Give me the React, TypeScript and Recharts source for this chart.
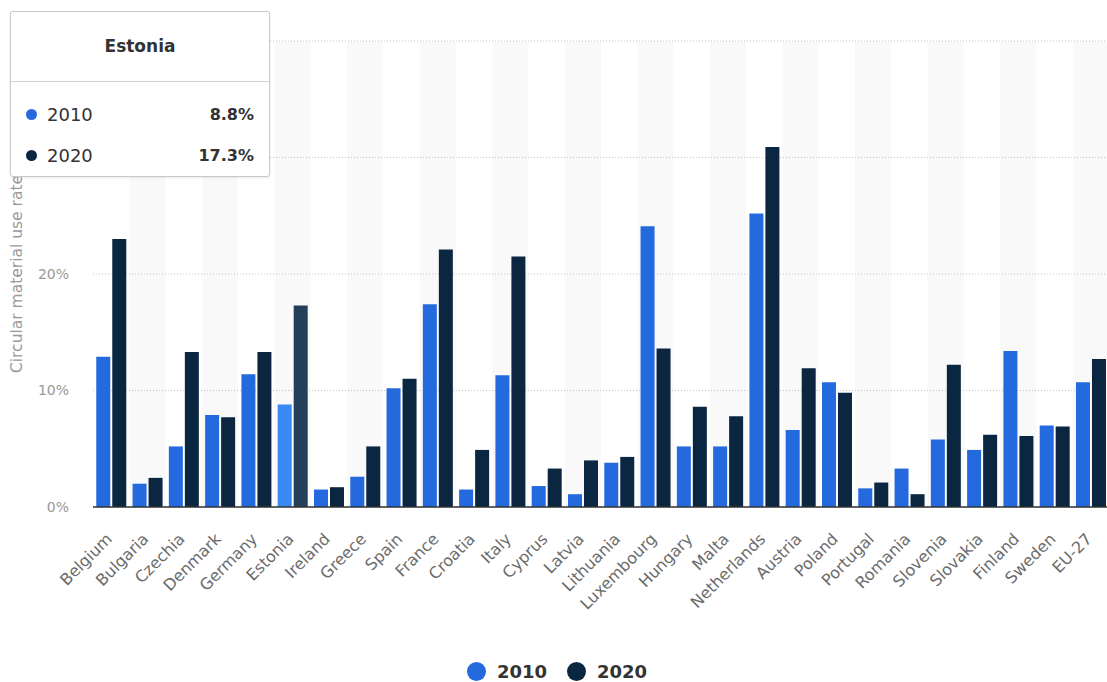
import {
  Bar,
  BarChart,
  CartesianGrid,
  Cell,
  Legend,
  ReferenceArea,
  Tooltip,
  XAxis,
  YAxis,
} from "recharts";

const countries = [
  "Belgium", "Bulgaria", "Czechia", "Denmark", "Germany", "Estonia", "Ireland",
  "Greece", "Spain", "France", "Croatia", "Italy", "Cyprus", "Latvia",
  "Lithuania", "Luxembourg", "Hungary", "Malta", "Netherlands", "Austria",
  "Poland", "Portugal", "Romania", "Slovenia", "Slovakia", "Finland", "Sweden",
  "EU-27",
];

const rate2010 = [
  12.9, 2.0, 5.2, 7.9, 11.4, 8.8, 1.5, 2.6, 10.2, 17.4, 1.5, 11.3, 1.8, 1.1,
  3.8, 24.1, 5.2, 5.2, 25.2, 6.6, 10.7, 1.6, 3.3, 5.8, 4.9, 13.4, 7.0, 10.7,
];

const rate2020 = [
  23.0, 2.5, 13.3, 7.7, 13.3, 17.3, 1.7, 5.2, 11.0, 22.1, 4.9, 21.5, 3.3, 4.0,
  4.3, 13.6, 8.6, 7.8, 30.9, 11.9, 9.8, 2.1, 1.1, 12.2, 6.2, 6.1, 6.9, 12.7,
];

const yTicks = [0, 10, 20, 30, 40];
const hovered = "Estonia";

const FONT = "'DejaVu Sans', Verdana, sans-serif";
const BLUE = "#2469dd";
const NAVY = "#0a2640";
const BLUE_HOVER = "#3a88f4";
const NAVY_HOVER = "#233f5a";

const data = countries.map((c, i) => ({
  country: c,
  y2010: rate2010[i],
  y2020: rate2020[i],
}));

function CountryTick({ x, y, payload }: any) {
  const ax = x + 2;
  const ay = y + 33;
  return (
    <text
      x={ax}
      y={ay}
      transform={`rotate(-45 ${ax} ${ay})`}
      textAnchor="end"
      fontSize={16}
      fontFamily={FONT}
      fill="#6b6b6b"
    >
      {payload.value}
    </text>
  );
}

function AxisTitle({ viewBox }: any) {
  const cy = viewBox ? viewBox.y + viewBox.height / 2 : 274;
  return (
    <text
      x={17}
      y={cy}
      transform={`rotate(-90 17 ${cy})`}
      textAnchor="middle"
      dominantBaseline="central"
      fontSize={15.5}
      fontFamily={FONT}
      fill="#999"
    >
      Circular material use rate
    </text>
  );
}

function HoverBox({ payload }: any) {
  if (!payload || !payload.length) return null;
  const row = payload[0].payload;
  const items = [
    { name: "2010", color: BLUE, value: row.y2010 },
    { name: "2020", color: NAVY, value: row.y2020 },
  ];
  return (
    <div
      style={{
        width: 258,
        height: 164,
        background: "#fff",
        border: "1px solid #c8c8c8",
        borderRadius: 3,
        boxShadow: "0 1px 3px rgba(0,0,0,0.08)",
        fontFamily: FONT,
        color: "#333",
      }}
    >
      <div
        style={{
          height: 69,
          lineHeight: "69px",
          textAlign: "center",
          fontWeight: "bold",
          fontSize: 17,
          borderBottom: "1px solid #d0d0d0",
        }}
      >
        {row.country}
      </div>
      <div style={{ paddingTop: 12 }}>
        {items.map((it) => (
          <div
            key={it.name}
            style={{
              height: 41,
              display: "flex",
              alignItems: "center",
              padding: "0 15px",
            }}
          >
            <span
              style={{
                width: 11,
                height: 11,
                borderRadius: "50%",
                background: it.color,
                marginRight: 10,
              }}
            />
            <span style={{ fontSize: 18, flex: 1 }}>{it.name}</span>
            <span style={{ fontSize: 16, fontWeight: "bold" }}>
              {it.value.toFixed(1)}%
            </span>
          </div>
        ))}
      </div>
    </div>
  );
}

function LegendRow() {
  const items = [
    { name: "2010", color: BLUE },
    { name: "2020", color: NAVY },
  ];
  return (
    <div
      style={{
        height: 22,
        display: "flex",
        justifyContent: "center",
        alignItems: "center",
        paddingLeft: 5,
        fontFamily: FONT,
      }}
    >
      {items.map((it) => (
        <div
          key={it.name}
          style={{ display: "flex", alignItems: "center", margin: "0 10px" }}
        >
          <span
            style={{
              width: 19,
              height: 19,
              borderRadius: "50%",
              background: it.color,
              marginRight: 11,
            }}
          />
          <span style={{ fontSize: 18, fontWeight: "bold", color: "#333" }}>
            {it.name}
          </span>
        </div>
      ))}
    </div>
  );
}

export default function App() {
  return (
    <div
      style={{
        position: "absolute",
        left: 0,
        top: 0,
        width: 1107,
        height: 682,
        overflow: "hidden",
        background: "#fff",
      }}
    >
      <BarChart
        width={1109}
        height={682}
        data={data}
        margin={{ top: 41, right: 0, left: 0, bottom: 0 }}
        barCategoryGap="9%"
        barGap={2}
      >
        {countries
          .filter((_, i) => i % 2 === 1)
          .map((c) => (
            <ReferenceArea
              key={c}
              x1={c}
              x2={c}
              fill="#000"
              fillOpacity={0.022}
              stroke="none"
            />
          ))}
        <CartesianGrid
          vertical={false}
          stroke="#c4c4c4"
          strokeDasharray="1 2"
        />
        <XAxis
          dataKey="country"
          interval={0}
          height={153}
          tickLine={false}
          tickSize={0}
          tickMargin={0}
          axisLine={{ stroke: "#333", strokeWidth: 1.5 }}
          tick={<CountryTick />}
        />
        <YAxis
          width={93}
          domain={[0, 40]}
          ticks={yTicks}
          tickFormatter={(v) => `${v}%`}
          axisLine={false}
          tickLine={false}
          tickSize={0}
          tickMargin={24}
          tick={{ fill: "#999", fontSize: 14, fontFamily: FONT }}
          label={{ content: <AxisTitle /> }}
        />
        <Tooltip
          active
          defaultIndex={5}
          cursor={false}
          position={{ x: 10, y: 11 }}
          isAnimationActive={false}
          wrapperStyle={{ zIndex: 10 }}
          content={<HoverBox />}
        />
        <Legend verticalAlign="bottom" align="center" content={<LegendRow />} />
        <Bar dataKey="y2010" name="2010" fill={BLUE} isAnimationActive={false}>
          {data.map((d) => (
            <Cell key={d.country} fill={d.country === hovered ? BLUE_HOVER : BLUE} />
          ))}
        </Bar>
        <Bar dataKey="y2020" name="2020" fill={NAVY} isAnimationActive={false}>
          {data.map((d) => (
            <Cell key={d.country} fill={d.country === hovered ? NAVY_HOVER : NAVY} />
          ))}
        </Bar>
      </BarChart>
    </div>
  );
}
